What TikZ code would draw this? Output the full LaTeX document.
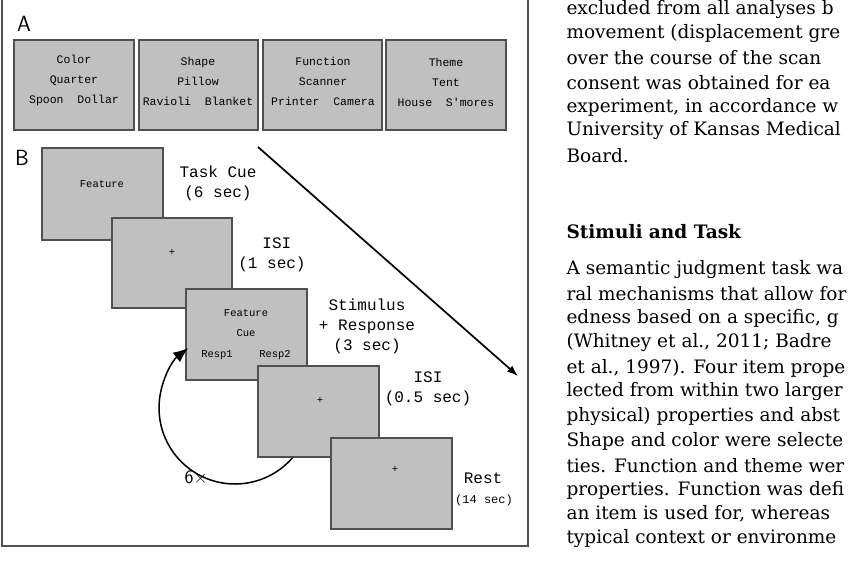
\documentclass[tikz,border=0pt]{standalone}
\usepackage{fontspec}
\setmainfont{DejaVu Serif}
\setmonofont{Liberation Mono}
\usetikzlibrary{arrows.meta}
\definecolor{panelgray}{HTML}{C0C0C0}
\definecolor{edgegray}{HTML}{505050}
\tikzset{
    every node/.style={align=center,},
    card/.style={draw=edgegray,fill=panelgray,line width=1.2pt,},
    small/.style={font=\ttfamily\fontsize{10.5}{10.5}\selectfont,},
    listing/.style={font=\ttfamily\fontsize{11.5}{20}\selectfont,},
    timing/.style={font=\ttfamily\fontsize{16}{20}\selectfont,},
    body/.style={anchor=west,font=\fontsize{18.5}{20}\selectfont,},
}
\begin{document}
\begin{tikzpicture}[x=1pt,y=-1pt]
                \useasboundingbox (0,0) rectangle (850,561);
                \draw[line width=1.2pt,edgegray] (2,-1) rectangle (528,546);
                \node[font=\sffamily\fontsize{22}{22}\selectfont] (labA) at (24,24) {A};
                \node[font=\sffamily\fontsize{22}{22}\selectfont] (labB) at (22,158) {B};

                % panel A
                \draw[card] (14,40) rectangle (134,130);
                \node[listing] (color) at (74,81) {Color\\Quarter\\Spoon\ \ Dollar};
                \draw[card] (139,40) rectangle (258,130);
                \node[listing] (shape) at (198,81) {Shape\\Pillow\\Ravioli\ \ Blanket};
                \draw[card] (263,40) rectangle (382,130);
                \node[listing] (function) at (323,81) {Function\\Scanner\\Printer\ \ Camera};
                \draw[card] (386,40) rectangle (506,130);
                \node[listing] (theme) at (446,82) {Theme\\Tent\\House\ \ S'mores};

                % panel B
                \draw[-{Latex[length=11pt,width=8pt]},line width=1.7pt] (258,147) coordinate (tstart) -- (518,376) coordinate (tend);
                \draw[card] (42,148) rectangle (163,240);
                \node[small] (cue) at (102,184) {Feature};
                \draw[card] (112,218) rectangle (232,308);
                \node[small] (fix1) at (172,252) {+};
                \draw[card] (186,289) rectangle (307,380);
                \node[small] (feat) at (246,313) {Feature};
                \node[small] (cue2) at (246,333) {Cue};
                \node[small] (resp1) at (217,355) {Resp1};
                \node[small] (resp2) at (275,355) {Resp2};
                \draw[-{Latex[length=15pt,width=12pt]},line width=1.5pt] (235,408) ++(36:76) arc[start angle=36,end angle=232,radius=76] coordinate (loop);
                \node[font=\sffamily\fontsize{19}{19}\selectfont] (reps) at (196,477) {6×};
                \draw[card] (258,366) rectangle (379,457);
                \node[small] (fix2) at (320,400) {+};
                \draw[card] (331,438) rectangle (452,529);
                \node[small] (fix3) at (395,469) {+};

                \node[timing] (tcue) at (218,183) {Task Cue\\(6 sec)};
                \node[timing] (isi1) at (272,255) {\ ISI\\(1 sec)};
                \node[timing] (stim) at (367,326) {Stimulus\\+ Response\\(3 sec)};
                \node[timing] (isi2) at (428,389) {ISI\\(0.5 sec)};
                \node[timing] (rest) at (483,478) {Rest};
                \node[small,font=\ttfamily\fontsize{12}{12}\selectfont] (restt) at (484,500) {(14 sec)};

                % text column
                \begin{scope}
                \clip (530,0) rectangle (850,561);
                \node[body] (l1) at (563,10) {excluded from all analyses b};
                \node[body] (l2) at (563,34) {movement (displacement gre};
                \node[body] (l3) at (563,58) {over the course of the scan};
                \node[body] (l4) at (563,83) {consent was obtained for ea};
                \node[body] (l5) at (563,107) {experiment, in accordance w};
                \node[body] (l6) at (563,131) {University of Kansas Medical};
                \node[body] (l7) at (563,156) {Board.};
                \node[body,font=\bfseries\fontsize{18.5}{20}\selectfont] (head) at (563,232) {Stimuli and Task};
                \node[body] (m1) at (563,270) {A semantic judgment task wa};
                \node[body] (m2) at (563,294) {ral mechanisms that allow for};
                \node[body] (m3) at (563,319) {edness based on a specific, g};
                \node[body] (m4) at (563,343) {(Whitney et al., 2011; Badre};
                \node[body] (m5) at (563,368) {et al., 1997). Four item prope};
                \node[body] (m6) at (563,392) {lected from within two larger};
                \node[body] (m7) at (563,417) {physical) properties and abst};
                \node[body] (m8) at (563,441) {Shape and color were selecte};
                \node[body] (m9) at (563,466) {ties. Function and theme wer};
                \node[body] (m10) at (563,490) {properties. Function was defi};
                \node[body] (m11) at (563,514) {an item is used for, whereas};
                \node[body] (m12) at (563,539) {typical context or environme};
                \end{scope}
            \end{tikzpicture}
\end{document}
